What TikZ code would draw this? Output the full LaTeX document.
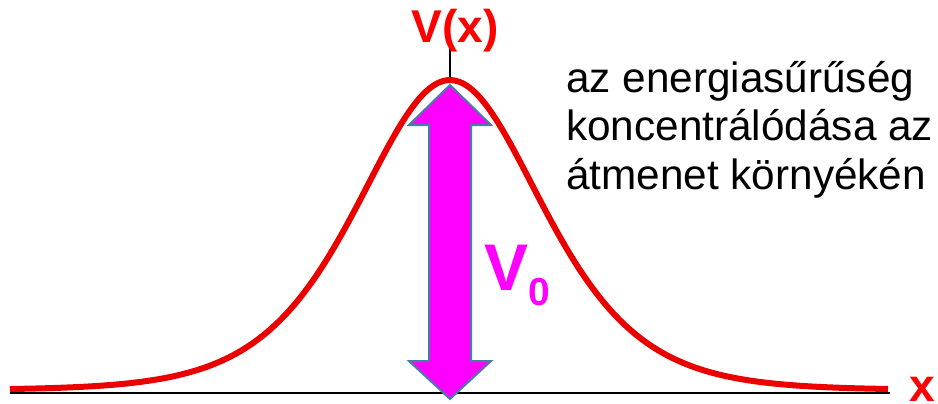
\documentclass[tikz,border=0pt]{standalone}
\usepackage{fontspec}
\setmainfont{Liberation Sans}
\usepackage{xcolor}
\usetikzlibrary{positioning, calc}
\definecolor{edgeblue}{RGB}{74,122,168}
\definecolor{vmag}{RGB}{255,0,255}
\definecolor{vred}{RGB}{255,0,0}

\begin{document}
\begin{tikzpicture}[x=1pt, y=-1pt, every node/.style={inner sep=0pt},
                    lbl/.style={vred, font=\fontsize{46}{46}\selectfont\bfseries},
                    note/.style={align=left, font=\fontsize{42.3}{48.5}\selectfont}]
  \useasboundingbox (0,0) rectangle (938,404);
  \draw[line width=2pt] (10,393) coordinate (xl) -- (890,393) coordinate (xr);
  \coordinate (peak) at (450,80);
  \coordinate (vtop) at (450,48);
  \draw[line width=1.5pt] (peak) -- (vtop);
  \draw[vred!92!black, line width=6pt, smooth, samples=220, domain=10:888]
        plot (\x, {390-310/(cosh(0.0081*(\x-450)))^2});
  \filldraw[fill=vmag, draw=edgeblue, line width=2pt, line join=miter]
        (450,85) -- (491,125) -- (471,125) -- (471,361) -- (491,361) -- (450,399)
        -- (409,361) -- (429,361) -- (429,125) -- (409,125) -- cycle;
  \node[lbl, anchor=base] (vx) at (455,43) {V(x)};
  \node[lbl, anchor=base west] (xlab) at (909,401) {x};
  \node[vmag, font=\fontsize{66}{66}\selectfont\bfseries, anchor=base west]
        (v0) at (484,290) {V\raisebox{-15pt}{\fontsize{39}{39}\selectfont 0}};
  \node[note, anchor=base west] (txt) at (566,189)
        {az energiasűrűség\\koncentrálódása az\\átmenet környékén};
\end{tikzpicture}
\end{document}
